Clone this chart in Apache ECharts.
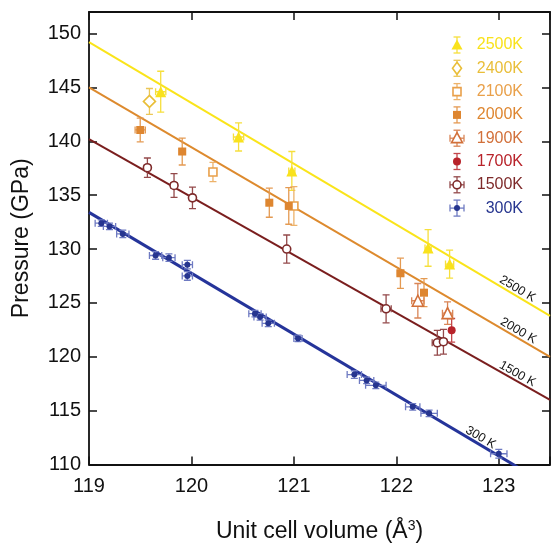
<!DOCTYPE html>
<html><head><meta charset="utf-8">
<script src="https://cdn.jsdelivr.net/npm/echarts@6/dist/echarts.min.js"></script>
<style>html,body{margin:0;padding:0;background:#fff}#c{width:554px;height:548px}</style>
</head><body><div id="c"></div>
<script>
// ---- data: [volume (Å3), pressure (GPa), volume error, pressure error]
const s300K = [
 [119.12,132.4,0.06,0.3],[119.20,132.1,0.06,0.3],[119.33,131.4,0.06,0.35],
 [119.65,129.4,0.06,0.35],[119.78,129.2,0.06,0.35],[119.96,128.55,0.05,0.4],
 [119.96,127.5,0.05,0.4],[120.62,124.0,0.06,0.3],[120.67,123.7,0.06,0.3],
 [120.75,123.1,0.06,0.3],[121.04,121.7,0.04,0.3],[121.59,118.35,0.07,0.35],
 [121.71,117.8,0.07,0.3],[121.80,117.35,0.1,0.3],[122.16,115.35,0.07,0.3],
 [122.32,114.75,0.08,0.3],[123.00,111.0,0.08,0.4]
];
const s1500K = [
 [119.57,137.55,0.03,0.9],[119.83,135.9,0.03,1.1],[120.01,134.75,0.03,1.0],
 [120.93,130.0,0,1.3],[121.90,124.45,0.05,1.3],[122.40,121.3,0.05,1.15],[122.46,121.4,0.03,1.15]
];
const s1700K = [[122.54,122.45,0,1.1]];
const s1900K = [[122.21,125.2,0.06,1.6],[122.50,124.05,0.05,1.05]];
const s2000K = [
 [119.50,141.05,0.05,1.1],[119.91,139.05,0.03,1.25],[120.76,134.3,0.02,1.35],
 [120.95,134.0,0.02,1.7],[122.04,127.75,0.03,1.4],[122.27,125.95,0.03,1.3]
];
const s2100K = [[120.21,137.15,0,0.9],[121.00,134.0,0.02,1.8]];
const s2400K = [[119.59,143.7,0,1.2]];
const s2500K = [
 [119.70,144.6,0.05,1.9],[120.46,140.4,0.05,1.3],[120.98,137.25,0.03,1.8],
 [122.31,130.1,0.03,1.7],[122.52,128.6,0.04,1.3]
];
// fitted isotherms: pressure at volume 119 and 123.5
const fitX = [119, 123.5];
const fit300K = [133.4, 107.97];
const fit1500K = [140.2, 116.0];
const fit2000K = [145.0, 120.0];
const fit2500K = [149.2, 123.8];
const fitLabels = ['300 K','1500 K','2000 K','2500 K'];
const fitLabelX = [122.79, 123.15, 123.16, 123.15];
const legendNames = ['2500K','2400K','2100K','2000K','1900K','1700K','1500K','300K'];
const xTicks = [119,120,121,122,123];
const yTicks = [110,115,120,125,130,135,140,145,150];

// ---- styling
const FONT = 'Liberation Sans, Arial, sans-serif';
const sets = [
 {name:'2500K', data:s2500K, color:'#F9E21C', err:'#F6DF3C', sym:'triangle', size:11, filled:true},
 {name:'2400K', data:s2400K, color:'#E9BE38', err:'#EBC758', sym:'diamond', size:12, filled:false},
 {name:'2100K', data:s2100K, color:'#E9A04A', err:'#EDB26A', sym:'rect', size:8, filled:false},
 {name:'2000K', data:s2000K, color:'#DE8630', err:'#E49A52', sym:'rect', size:8, filled:true},
 {name:'1900K', data:s1900K, color:'#D2703A', err:'#D98556', sym:'triangle', size:11, filled:false},
 {name:'1700K', data:s1700K, color:'#B8232A', err:'#C3474B', sym:'circle', size:8, filled:true},
 {name:'1500K', data:s1500K, color:'#7E2A2A', err:'#93494A', sym:'circle', size:8, filled:false},
 {name:'300K',  data:s300K,  color:'#26358F', err:'#6E7AC2', sym:'circle', size:6, filled:true}
];
const fits = [
 {d:fit300K, color:'#25349A', w:3},
 {d:fit1500K, color:'#7A1E1E', w:2},
 {d:fit2000K, color:'#DD8A2E', w:2},
 {d:fit2500K, color:'#FAE41A', w:2}
];

function errRender(color){
  return function(params, api){
    const x=api.value(0), y=api.value(1), dx=api.value(2), dy=api.value(3);
    const st={stroke:color, lineWidth:1.3};
    const c=[]; const cap=3.5;
    const t=api.coord([x,y+dy]), b=api.coord([x,y-dy]);
    c.push({type:'line',shape:{x1:t[0],y1:t[1],x2:b[0],y2:b[1]},style:st});
    c.push({type:'line',shape:{x1:t[0]-cap,y1:t[1],x2:t[0]+cap,y2:t[1]},style:st});
    c.push({type:'line',shape:{x1:b[0]-cap,y1:b[1],x2:b[0]+cap,y2:b[1]},style:st});
    if(dx>0){
      const l=api.coord([x-dx,y]), r=api.coord([x+dx,y]);
      c.push({type:'line',shape:{x1:l[0],y1:l[1],x2:r[0],y2:r[1]},style:st});
      c.push({type:'line',shape:{x1:l[0],y1:l[1]-cap,x2:l[0],y2:l[1]+cap},style:st});
      c.push({type:'line',shape:{x1:r[0],y1:r[1]-cap,x2:r[0],y2:r[1]+cap},style:st});
    }
    return {type:'group',children:c};
  };
}

const series = [];
fits.forEach(f=>{
  series.push({type:'line', data:[[fitX[0],f.d[0]],[fitX[1],f.d[1]]], symbol:'none', silent:true,
    lineStyle:{color:f.color,width:f.w}, z:2, clip:true});
});
sets.forEach(s=>{
  series.push({type:'custom', name:s.name+'err', data:s.data, renderItem:errRender(s.err), z:3, silent:true, clip:true});
});
sets.forEach(s=>{
  series.push({type:'scatter', name:s.name, data:s.data.map(p=>[p[0],p[1]]), symbol:s.sym, symbolSize:s.size, z:4, silent:true,
    itemStyle:{color:s.filled?s.color:'#fff', borderColor:s.color, borderWidth:s.filled?0:1.6, opacity:1}});
});

const axisLine={show:true,onZero:false,lineStyle:{color:'#111',width:1.8}};
const axisTick={show:true,inside:true,length:8,lineStyle:{color:'#111',width:1.5}};
const option = {
  animation:false,
  backgroundColor:'#fff',
  grid:{left:89,right:4,top:12,bottom:76,containLabel:false},
  xAxis:[
    {type:'value',min:119,max:123.5,interval:1,position:'bottom',axisLine,axisTick,splitLine:{show:false},
     axisLabel:{fontSize:20,color:'#111',fontFamily:FONT,margin:12,
       formatter:v=>xTicks.indexOf(v)>=0?String(v):''},
     name:'{m|Unit cell volume (Å}{s|3}{m|)}',nameLocation:'middle',nameGap:55,
     nameTextStyle:{rich:{m:{fontSize:23,fontFamily:FONT,color:'#111'},s:{fontSize:14,fontFamily:FONT,color:'#111',padding:[0,0,10,0]}}}},
    {type:'value',min:119,max:123.5,interval:1,position:'top',axisLine,axisTick,splitLine:{show:false},axisLabel:{show:false}}
  ],
  yAxis:[
    {type:'value',min:110,max:152,interval:5,position:'left',axisLine,axisTick,splitLine:{show:false},
     axisLabel:{fontSize:20,color:'#111',fontFamily:FONT,margin:8,
       formatter:v=>yTicks.indexOf(v)>=0?String(v):''},
     name:'Pressure (GPa)',nameLocation:'middle',nameGap:56,
     nameTextStyle:{fontSize:23,fontFamily:FONT,color:'#111'}},
    {type:'value',min:110,max:152,interval:5,position:'right',axisLine,axisTick,splitLine:{show:false},axisLabel:{show:false}}
  ],
  series
};
const chart = echarts.init(document.getElementById('c'),null,{renderer:'canvas'});
chart.setOption(option);

// ---- graphics: legend and isotherm labels
function markerShape(s, cx, cy){
  const fill = s.filled? s.color : '#fff';
  const st = {fill, stroke:s.color, lineWidth:s.filled?0:1.6};
  const h = s.size/2;
  if(s.sym==='circle') return {type:'circle',shape:{cx,cy,r:h},style:st,z:10};
  if(s.sym==='rect') return {type:'rect',shape:{x:cx-h,y:cy-h,width:2*h,height:2*h},style:st,z:10};
  if(s.sym==='diamond') return {type:'polygon',shape:{points:[[cx,cy-h],[cx+h*0.75,cy],[cx,cy+h],[cx-h*0.75,cy]]},style:st,z:10};
  return {type:'polygon',shape:{points:[[cx,cy-h],[cx+h,cy+h*0.8],[cx-h,cy+h*0.8]]},style:st,z:10};
}
const graphics = [];
const legendHasH = {'1900K':1,'1500K':1,'300K':1};
sets.forEach((s,i)=>{
  const cx=457, cy=45+i*23.3, eb=8, cap=3.5, st={stroke:s.err,lineWidth:1.3};
  graphics.push({type:'line',shape:{x1:cx,y1:cy-eb,x2:cx,y2:cy+eb},style:st,z:9});
  graphics.push({type:'line',shape:{x1:cx-cap,y1:cy-eb,x2:cx+cap,y2:cy-eb},style:st,z:9});
  graphics.push({type:'line',shape:{x1:cx-cap,y1:cy+eb,x2:cx+cap,y2:cy+eb},style:st,z:9});
  if(legendHasH[s.name]){
    const hw=7;
    graphics.push({type:'line',shape:{x1:cx-hw,y1:cy,x2:cx+hw,y2:cy},style:st,z:9});
    graphics.push({type:'line',shape:{x1:cx-hw,y1:cy-cap,x2:cx-hw,y2:cy+cap},style:st,z:9});
    graphics.push({type:'line',shape:{x1:cx+hw,y1:cy-cap,x2:cx+hw,y2:cy+cap},style:st,z:9});
  }
  graphics.push(markerShape(s,cx,cy));
  graphics.push({type:'text',x:523,y:cy,z:10,style:{text:s.name,fill:s.color,font:'16px '+FONT,textAlign:'right',textVerticalAlign:'middle'}});
});
fits.forEach((f,i)=>{
  const xv=fitLabelX[i];
  const yv=f.d[0]+(f.d[1]-f.d[0])*(xv-fitX[0])/(fitX[1]-fitX[0]);
  const p=chart.convertToPixel({xAxisIndex:0,yAxisIndex:0},[xv,yv]);
  const p2=chart.convertToPixel({xAxisIndex:0,yAxisIndex:0},[fitX[1],f.d[1]]);
  const p1=chart.convertToPixel({xAxisIndex:0,yAxisIndex:0},[fitX[0],f.d[0]]);
  const ang=Math.atan2(p2[1]-p1[1],p2[0]-p1[0]);
  graphics.push({type:'text',x:p[0],y:p[1],rotation:-ang,z:10,
    style:{text:fitLabels[i],fill:'#111',font:'12.5px '+FONT,textAlign:'center',textVerticalAlign:'bottom'}});
});
chart.setOption({graphic:graphics});
</script></body></html>
